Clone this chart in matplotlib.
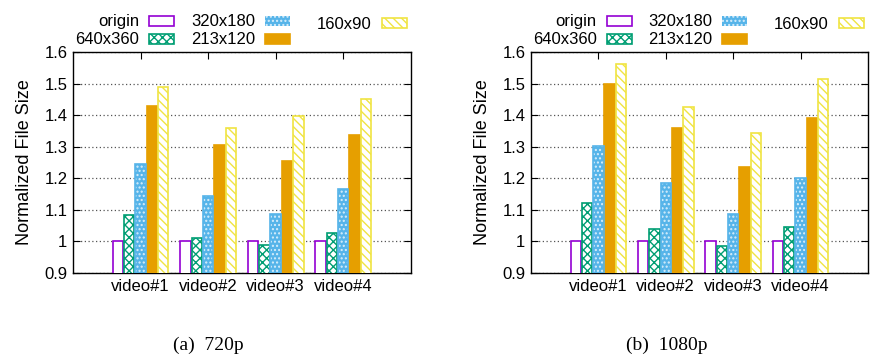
import numpy as np
import matplotlib
matplotlib.use("Agg")
import matplotlib.pyplot as plt

# data
videos = ["video#1", "video#2", "video#3", "video#4"]
labels = ["origin", "640x360", "320x180", "213x120", "160x90"]
vals_720 = [
    [1.00, 1.00, 1.00, 1.00],
    [1.083, 1.012, 0.990, 1.028],
    [1.246, 1.143, 1.086, 1.165],
    [1.428, 1.307, 1.255, 1.337],
    [1.488, 1.359, 1.397, 1.451],
]
vals_1080 = [
    [1.00, 1.00, 1.00, 1.00],
    [1.121, 1.039, 0.987, 1.047],
    [1.301, 1.185, 1.086, 1.200],
    [1.498, 1.361, 1.237, 1.390],
    [1.561, 1.426, 1.345, 1.515],
]

colors = ["#9400D3", "#009E73", "#56B4E9", "#E69F00", "#F0E442"]

plt.rcParams["font.family"] = ["Liberation Sans", "DejaVu Sans"]
plt.rcParams["font.size"] = 12
plt.rcParams["hatch.linewidth"] = 1.0

leg_kw = dict(frameon=False, markerfirst=False, handlelength=1.5, handleheight=0.55,
              handletextpad=0.6, columnspacing=1.0, labelspacing=0.18,
              borderaxespad=0.0, borderpad=0.0, fontsize=12)


def draw_panel(ax, vals, caption):
    x = np.arange(1, len(videos) + 1)
    step = 0.168
    w = 0.155
    handles = []
    for i, v in enumerate(vals):
        pos = x + (i - 2) * step
        c = colors[i]
        if i == 0:
            ax.bar(pos, v, w, facecolor="white", edgecolor=c, lw=1.2, zorder=3)
            h = ax.bar([-5], [1], w, facecolor="white", edgecolor=c, lw=1.2)
        elif i == 1:
            ax.bar(pos, v, w, facecolor="white", edgecolor=c, hatch="xxxx", lw=1.2, zorder=3)
            h = ax.bar([-5], [1], w, facecolor="white", edgecolor=c, hatch="xxxx", lw=1.2)
        elif i == 2:
            ax.bar(pos, v, w, facecolor=c, edgecolor="#d8eefb", hatch="....", lw=0, zorder=3)
            ax.bar(pos, v, w, fill=False, edgecolor=c, lw=1.2, zorder=4)
            h = ax.bar([-5], [1], w, facecolor=c, edgecolor="#d8eefb", hatch="....", lw=0)
        elif i == 3:
            ax.bar(pos, v, w, facecolor=c, edgecolor=c, lw=1.2, zorder=3)
            h = ax.bar([-5], [1], w, facecolor=c, edgecolor=c, lw=1.2)
        else:
            ax.bar(pos, v, w, facecolor="white", edgecolor=c, hatch="\\\\\\\\", lw=1.2, zorder=3)
            h = ax.bar([-5], [1], w, facecolor="white", edgecolor=c, hatch="\\\\\\\\", lw=1.2)
        handles.append(h)

    ax.set_xlim(0, 5)
    ax.set_ylim(0.9, 1.6)
    ax.set_yticks(np.arange(0.9, 1.61, 0.1))
    ax.set_yticklabels(["0.9", "1", "1.1", "1.2", "1.3", "1.4", "1.5", "1.6"])
    ax.set_xticks(x)
    ax.set_xticklabels(videos)
    ax.tick_params(direction="in", top=True, right=True, length=5, width=0.8, pad=4)
    ax.yaxis.grid(True, linestyle=(0, (1, 2)), color="#555555", lw=0.9, zorder=1)
    ax.set_axisbelow(True)
    for s in ax.spines.values():
        s.set_linewidth(1.0)
    ax.set_ylabel("Normalized File Size", fontsize=13, labelpad=8)

    # gnuplot-style key: fixed-width columns, so the last column is its own legend
    leg1 = ax.legend(handles[:4], labels[:4], ncol=2, loc="lower right",
                     bbox_to_anchor=(0.642, 1.021), **leg_kw)
    ax.add_artist(leg1)
    ax.legend(handles[4:], labels[4:], ncol=1, loc="lower right",
              bbox_to_anchor=(0.988, 1.093), **leg_kw)
    ax.text(0.402, -0.326, caption, transform=ax.transAxes, ha="center", va="center",
            fontsize=14, family=["Liberation Serif", "DejaVu Serif"])


fig = plt.figure(figsize=(8.89, 3.62), dpi=100)
ax1 = fig.add_axes([0.0821, 0.246, 0.380, 0.610])
ax2 = fig.add_axes([0.5973, 0.246, 0.379, 0.610])
draw_panel(ax1, vals_720, "(a)  720p")
draw_panel(ax2, vals_1080, "(b)  1080p")

fig.savefig("out.png", dpi=100)
